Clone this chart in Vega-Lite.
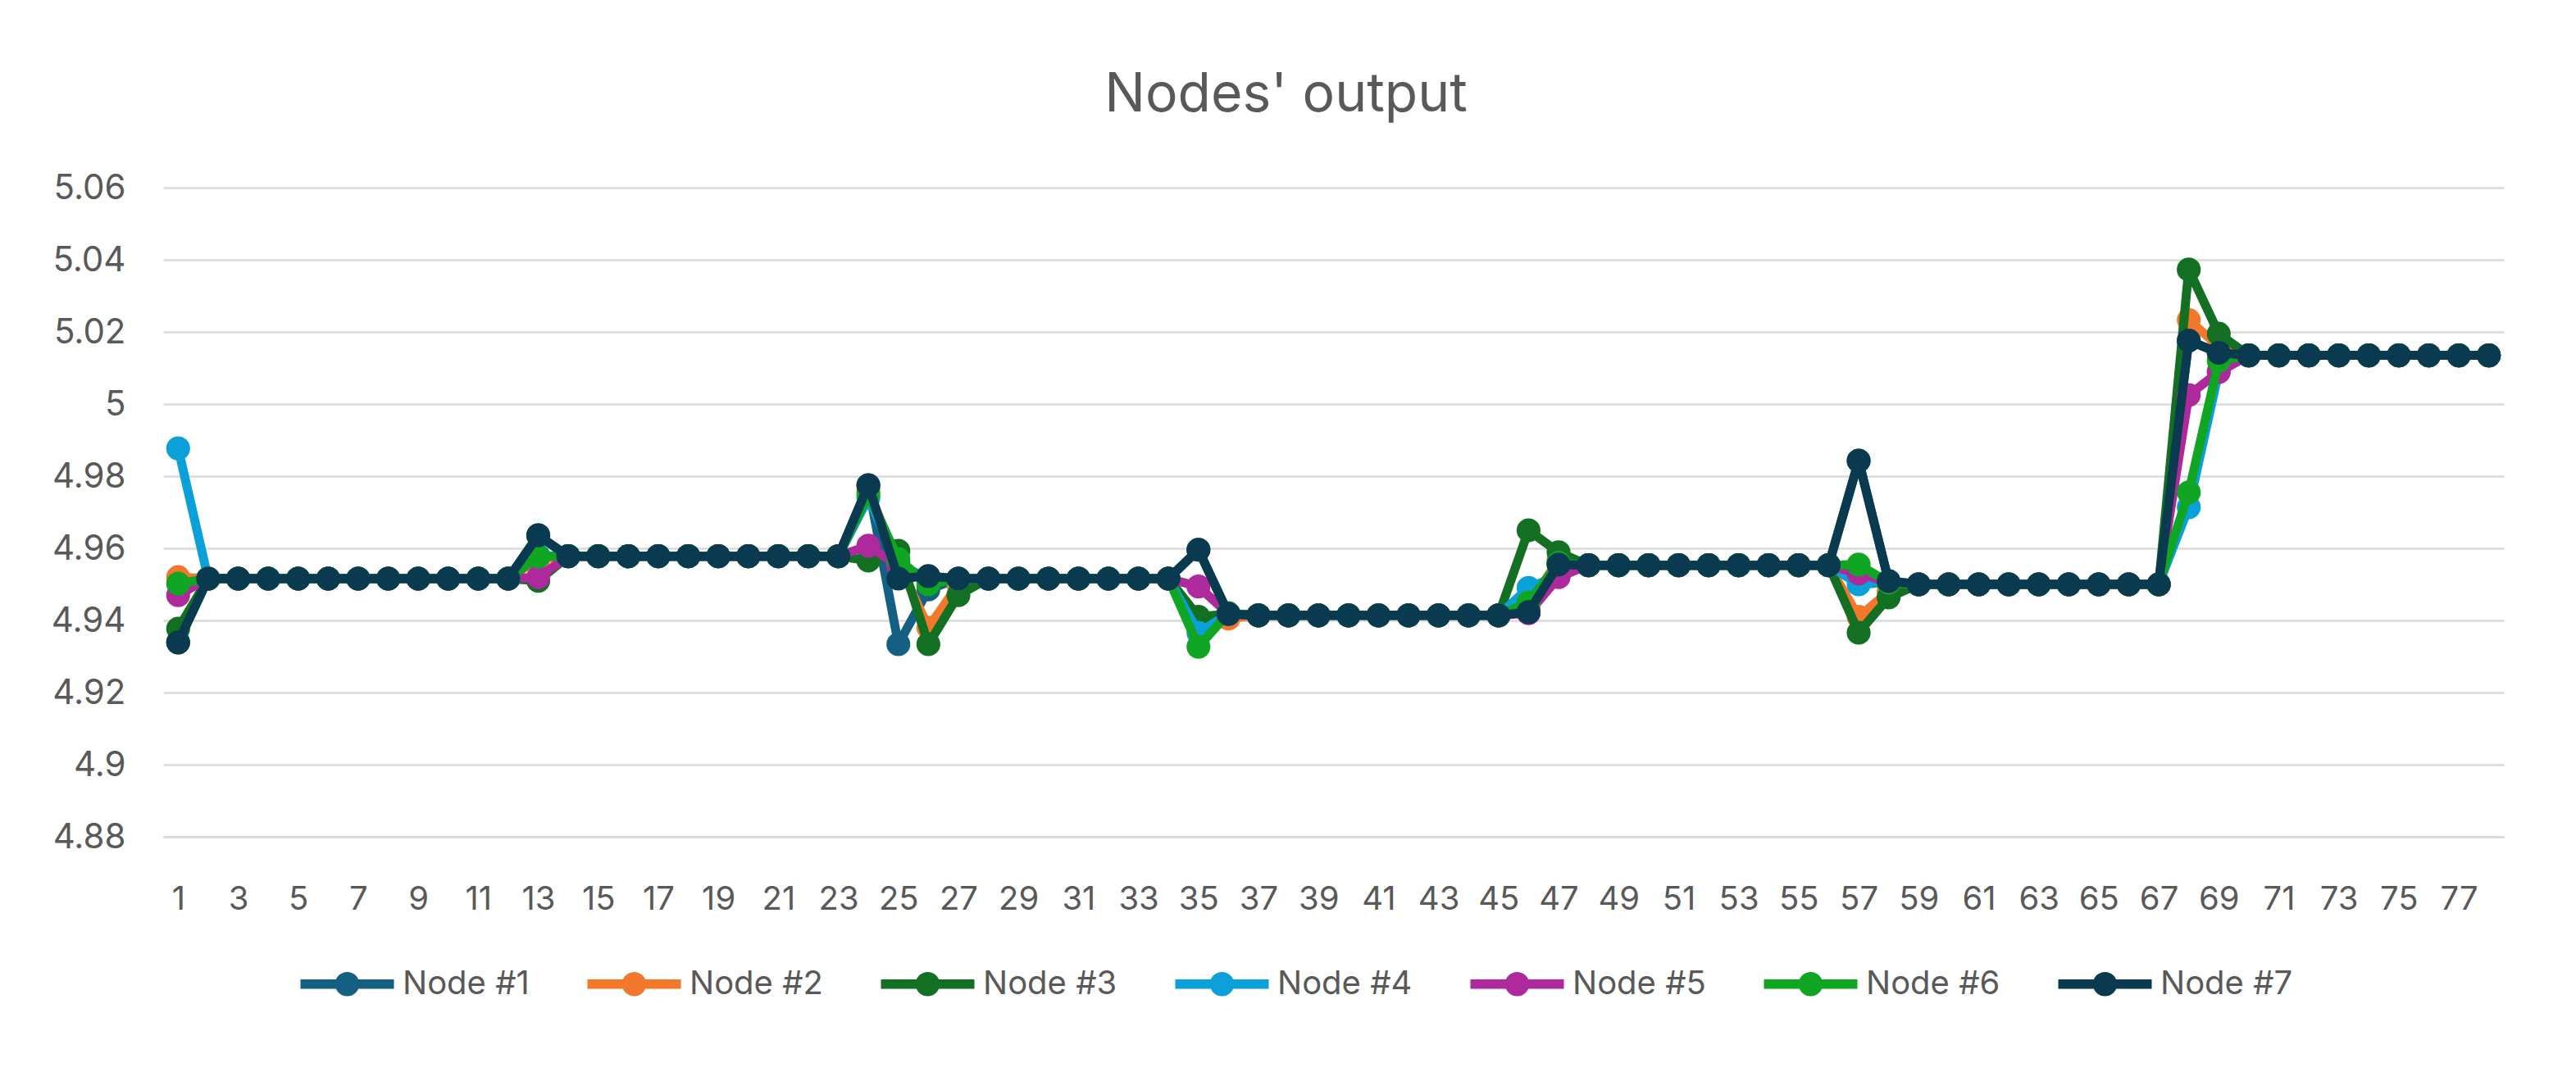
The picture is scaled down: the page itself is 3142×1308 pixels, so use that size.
{
  "$schema": "https://vega.github.io/schema/vega-lite/v6.json",
  "width": 2855,
  "height": 792,
  "autosize": {"type": "none"},
  "padding": {"left": 199, "top": 229, "right": 88, "bottom": 287},
  "background": "white",
  "config": {"view": {"stroke": null}, "font": "Inter"},
  "title": {"text": "Nodes' output", "fontSize": 66, "fontWeight": "normal", "color": "#595959", "anchor": "middle", "offset": 58, "dx": -58},
  "datasets": {
    "n1": [{"x":1,"v":4.9339},{"x":2,"v":4.9516},{"x":3,"v":4.9516},{"x":4,"v":4.9516},{"x":5,"v":4.9516},{"x":6,"v":4.9516},{"x":7,"v":4.9516},{"x":8,"v":4.9516},{"x":9,"v":4.9516},{"x":10,"v":4.9516},{"x":11,"v":4.9516},{"x":12,"v":4.9516},{"x":13,"v":4.9636},{"x":14,"v":4.9578},{"x":15,"v":4.9578},{"x":16,"v":4.9578},{"x":17,"v":4.9578},{"x":18,"v":4.9578},{"x":19,"v":4.9578},{"x":20,"v":4.9578},{"x":21,"v":4.9578},{"x":22,"v":4.9578},{"x":23,"v":4.9578},{"x":24,"v":4.9775},{"x":25,"v":4.9334},{"x":26,"v":4.9486},{"x":27,"v":4.9516},{"x":28,"v":4.9516},{"x":29,"v":4.9516},{"x":30,"v":4.9516},{"x":31,"v":4.9516},{"x":32,"v":4.9516},{"x":33,"v":4.9516},{"x":34,"v":4.9516},{"x":35,"v":4.9596},{"x":36,"v":4.9418},{"x":37,"v":4.9414},{"x":38,"v":4.9414},{"x":39,"v":4.9414},{"x":40,"v":4.9414},{"x":41,"v":4.9414},{"x":42,"v":4.9414},{"x":43,"v":4.9414},{"x":44,"v":4.9414},{"x":45,"v":4.9414},{"x":46,"v":4.9423},{"x":47,"v":4.9555},{"x":48,"v":4.9553},{"x":49,"v":4.9553},{"x":50,"v":4.9553},{"x":51,"v":4.9553},{"x":52,"v":4.9553},{"x":53,"v":4.9553},{"x":54,"v":4.9553},{"x":55,"v":4.9553},{"x":56,"v":4.9553},{"x":57,"v":4.9843},{"x":58,"v":4.9509},{"x":59,"v":4.95},{"x":60,"v":4.95},{"x":61,"v":4.95},{"x":62,"v":4.95},{"x":63,"v":4.95},{"x":64,"v":4.95},{"x":65,"v":4.95},{"x":66,"v":4.95},{"x":67,"v":4.95},{"x":68,"v":5.0176},{"x":69,"v":5.0142},{"x":70,"v":5.0135},{"x":71,"v":5.0135},{"x":72,"v":5.0135},{"x":73,"v":5.0135},{"x":74,"v":5.0135},{"x":75,"v":5.0135},{"x":76,"v":5.0135},{"x":77,"v":5.0135},{"x":78,"v":5.0135}],
    "n2": [{"x":1,"v":4.952},{"x":2,"v":4.9516},{"x":3,"v":4.9516},{"x":4,"v":4.9516},{"x":5,"v":4.9516},{"x":6,"v":4.9516},{"x":7,"v":4.9516},{"x":8,"v":4.9516},{"x":9,"v":4.9516},{"x":10,"v":4.9516},{"x":11,"v":4.9516},{"x":12,"v":4.9516},{"x":13,"v":4.957},{"x":14,"v":4.9578},{"x":15,"v":4.9578},{"x":16,"v":4.9578},{"x":17,"v":4.9578},{"x":18,"v":4.9578},{"x":19,"v":4.9578},{"x":20,"v":4.9578},{"x":21,"v":4.9578},{"x":22,"v":4.9578},{"x":23,"v":4.9578},{"x":24,"v":4.976},{"x":25,"v":4.956},{"x":26,"v":4.938},{"x":27,"v":4.95},{"x":28,"v":4.9516},{"x":29,"v":4.9516},{"x":30,"v":4.9516},{"x":31,"v":4.9516},{"x":32,"v":4.9516},{"x":33,"v":4.9516},{"x":34,"v":4.9516},{"x":35,"v":4.94},{"x":36,"v":4.9405},{"x":37,"v":4.9414},{"x":38,"v":4.9414},{"x":39,"v":4.9414},{"x":40,"v":4.9414},{"x":41,"v":4.9414},{"x":42,"v":4.9414},{"x":43,"v":4.9414},{"x":44,"v":4.9414},{"x":45,"v":4.9414},{"x":46,"v":4.944},{"x":47,"v":4.957},{"x":48,"v":4.9553},{"x":49,"v":4.9553},{"x":50,"v":4.9553},{"x":51,"v":4.9553},{"x":52,"v":4.9553},{"x":53,"v":4.9553},{"x":54,"v":4.9553},{"x":55,"v":4.9553},{"x":56,"v":4.9553},{"x":57,"v":4.941},{"x":58,"v":4.948},{"x":59,"v":4.95},{"x":60,"v":4.95},{"x":61,"v":4.95},{"x":62,"v":4.95},{"x":63,"v":4.95},{"x":64,"v":4.95},{"x":65,"v":4.95},{"x":66,"v":4.95},{"x":67,"v":4.95},{"x":68,"v":5.0233},{"x":69,"v":5.016},{"x":70,"v":5.0135},{"x":71,"v":5.0135},{"x":72,"v":5.0135},{"x":73,"v":5.0135},{"x":74,"v":5.0135},{"x":75,"v":5.0135},{"x":76,"v":5.0135},{"x":77,"v":5.0135},{"x":78,"v":5.0135}],
    "n3": [{"x":1,"v":4.9377},{"x":2,"v":4.9516},{"x":3,"v":4.9516},{"x":4,"v":4.9516},{"x":5,"v":4.9516},{"x":6,"v":4.9516},{"x":7,"v":4.9516},{"x":8,"v":4.9516},{"x":9,"v":4.9516},{"x":10,"v":4.9516},{"x":11,"v":4.9516},{"x":12,"v":4.9516},{"x":13,"v":4.951},{"x":14,"v":4.9578},{"x":15,"v":4.9578},{"x":16,"v":4.9578},{"x":17,"v":4.9578},{"x":18,"v":4.9578},{"x":19,"v":4.9578},{"x":20,"v":4.9578},{"x":21,"v":4.9578},{"x":22,"v":4.9578},{"x":23,"v":4.9578},{"x":24,"v":4.9566},{"x":25,"v":4.9593},{"x":26,"v":4.9334},{"x":27,"v":4.947},{"x":28,"v":4.9516},{"x":29,"v":4.9516},{"x":30,"v":4.9516},{"x":31,"v":4.9516},{"x":32,"v":4.9516},{"x":33,"v":4.9516},{"x":34,"v":4.9516},{"x":35,"v":4.941},{"x":36,"v":4.9418},{"x":37,"v":4.9414},{"x":38,"v":4.9414},{"x":39,"v":4.9414},{"x":40,"v":4.9414},{"x":41,"v":4.9414},{"x":42,"v":4.9414},{"x":43,"v":4.9414},{"x":44,"v":4.9414},{"x":45,"v":4.9414},{"x":46,"v":4.965},{"x":47,"v":4.9589},{"x":48,"v":4.9553},{"x":49,"v":4.9553},{"x":50,"v":4.9553},{"x":51,"v":4.9553},{"x":52,"v":4.9553},{"x":53,"v":4.9553},{"x":54,"v":4.9553},{"x":55,"v":4.9553},{"x":56,"v":4.9553},{"x":57,"v":4.9366},{"x":58,"v":4.9464},{"x":59,"v":4.95},{"x":60,"v":4.95},{"x":61,"v":4.95},{"x":62,"v":4.95},{"x":63,"v":4.95},{"x":64,"v":4.95},{"x":65,"v":4.95},{"x":66,"v":4.95},{"x":67,"v":4.95},{"x":68,"v":5.0373},{"x":69,"v":5.0195},{"x":70,"v":5.0135},{"x":71,"v":5.0135},{"x":72,"v":5.0135},{"x":73,"v":5.0135},{"x":74,"v":5.0135},{"x":75,"v":5.0135},{"x":76,"v":5.0135},{"x":77,"v":5.0135},{"x":78,"v":5.0135}],
    "n4": [{"x":1,"v":4.9877},{"x":2,"v":4.9516},{"x":3,"v":4.9516},{"x":4,"v":4.9516},{"x":5,"v":4.9516},{"x":6,"v":4.9516},{"x":7,"v":4.9516},{"x":8,"v":4.9516},{"x":9,"v":4.9516},{"x":10,"v":4.9516},{"x":11,"v":4.9516},{"x":12,"v":4.9516},{"x":13,"v":4.958},{"x":14,"v":4.9578},{"x":15,"v":4.9578},{"x":16,"v":4.9578},{"x":17,"v":4.9578},{"x":18,"v":4.9578},{"x":19,"v":4.9578},{"x":20,"v":4.9578},{"x":21,"v":4.9578},{"x":22,"v":4.9578},{"x":23,"v":4.9578},{"x":24,"v":4.974},{"x":25,"v":4.9555},{"x":26,"v":4.9516},{"x":27,"v":4.9516},{"x":28,"v":4.9516},{"x":29,"v":4.9516},{"x":30,"v":4.9516},{"x":31,"v":4.9516},{"x":32,"v":4.9516},{"x":33,"v":4.9516},{"x":34,"v":4.9516},{"x":35,"v":4.9366},{"x":36,"v":4.9418},{"x":37,"v":4.9414},{"x":38,"v":4.9414},{"x":39,"v":4.9414},{"x":40,"v":4.9414},{"x":41,"v":4.9414},{"x":42,"v":4.9414},{"x":43,"v":4.9414},{"x":44,"v":4.9414},{"x":45,"v":4.9414},{"x":46,"v":4.949},{"x":47,"v":4.9525},{"x":48,"v":4.9553},{"x":49,"v":4.9553},{"x":50,"v":4.9553},{"x":51,"v":4.9553},{"x":52,"v":4.9553},{"x":53,"v":4.9553},{"x":54,"v":4.9553},{"x":55,"v":4.9553},{"x":56,"v":4.9553},{"x":57,"v":4.95},{"x":58,"v":4.9505},{"x":59,"v":4.95},{"x":60,"v":4.95},{"x":61,"v":4.95},{"x":62,"v":4.95},{"x":63,"v":4.95},{"x":64,"v":4.95},{"x":65,"v":4.95},{"x":66,"v":4.95},{"x":67,"v":4.95},{"x":68,"v":4.9714},{"x":69,"v":5.009},{"x":70,"v":5.0135},{"x":71,"v":5.0135},{"x":72,"v":5.0135},{"x":73,"v":5.0135},{"x":74,"v":5.0135},{"x":75,"v":5.0135},{"x":76,"v":5.0135},{"x":77,"v":5.0135},{"x":78,"v":5.0135}],
    "n5": [{"x":1,"v":4.947},{"x":2,"v":4.9516},{"x":3,"v":4.9516},{"x":4,"v":4.9516},{"x":5,"v":4.9516},{"x":6,"v":4.9516},{"x":7,"v":4.9516},{"x":8,"v":4.9516},{"x":9,"v":4.9516},{"x":10,"v":4.9516},{"x":11,"v":4.9516},{"x":12,"v":4.9516},{"x":13,"v":4.952},{"x":14,"v":4.9578},{"x":15,"v":4.9578},{"x":16,"v":4.9578},{"x":17,"v":4.9578},{"x":18,"v":4.9578},{"x":19,"v":4.9578},{"x":20,"v":4.9578},{"x":21,"v":4.9578},{"x":22,"v":4.9578},{"x":23,"v":4.9578},{"x":24,"v":4.9607},{"x":25,"v":4.955},{"x":26,"v":4.9516},{"x":27,"v":4.9516},{"x":28,"v":4.9516},{"x":29,"v":4.9516},{"x":30,"v":4.9516},{"x":31,"v":4.9516},{"x":32,"v":4.9516},{"x":33,"v":4.9516},{"x":34,"v":4.9516},{"x":35,"v":4.9494},{"x":36,"v":4.9418},{"x":37,"v":4.9414},{"x":38,"v":4.9414},{"x":39,"v":4.9414},{"x":40,"v":4.9414},{"x":41,"v":4.9414},{"x":42,"v":4.9414},{"x":43,"v":4.9414},{"x":44,"v":4.9414},{"x":45,"v":4.9414},{"x":46,"v":4.942},{"x":47,"v":4.952},{"x":48,"v":4.9553},{"x":49,"v":4.9553},{"x":50,"v":4.9553},{"x":51,"v":4.9553},{"x":52,"v":4.9553},{"x":53,"v":4.9553},{"x":54,"v":4.9553},{"x":55,"v":4.9553},{"x":56,"v":4.9553},{"x":57,"v":4.953},{"x":58,"v":4.9505},{"x":59,"v":4.95},{"x":60,"v":4.95},{"x":61,"v":4.95},{"x":62,"v":4.95},{"x":63,"v":4.95},{"x":64,"v":4.95},{"x":65,"v":4.95},{"x":66,"v":4.95},{"x":67,"v":4.95},{"x":68,"v":5.0025},{"x":69,"v":5.0089},{"x":70,"v":5.0135},{"x":71,"v":5.0135},{"x":72,"v":5.0135},{"x":73,"v":5.0135},{"x":74,"v":5.0135},{"x":75,"v":5.0135},{"x":76,"v":5.0135},{"x":77,"v":5.0135},{"x":78,"v":5.0135}],
    "n6": [{"x":1,"v":4.9502},{"x":2,"v":4.9516},{"x":3,"v":4.9516},{"x":4,"v":4.9516},{"x":5,"v":4.9516},{"x":6,"v":4.9516},{"x":7,"v":4.9516},{"x":8,"v":4.9516},{"x":9,"v":4.9516},{"x":10,"v":4.9516},{"x":11,"v":4.9516},{"x":12,"v":4.9516},{"x":13,"v":4.9577},{"x":14,"v":4.9578},{"x":15,"v":4.9578},{"x":16,"v":4.9578},{"x":17,"v":4.9578},{"x":18,"v":4.9578},{"x":19,"v":4.9578},{"x":20,"v":4.9578},{"x":21,"v":4.9578},{"x":22,"v":4.9578},{"x":23,"v":4.9578},{"x":24,"v":4.975},{"x":25,"v":4.957},{"x":26,"v":4.95},{"x":27,"v":4.9516},{"x":28,"v":4.9516},{"x":29,"v":4.9516},{"x":30,"v":4.9516},{"x":31,"v":4.9516},{"x":32,"v":4.9516},{"x":33,"v":4.9516},{"x":34,"v":4.9516},{"x":35,"v":4.9327},{"x":36,"v":4.942},{"x":37,"v":4.9414},{"x":38,"v":4.9414},{"x":39,"v":4.9414},{"x":40,"v":4.9414},{"x":41,"v":4.9414},{"x":42,"v":4.9414},{"x":43,"v":4.9414},{"x":44,"v":4.9414},{"x":45,"v":4.9414},{"x":46,"v":4.945},{"x":47,"v":4.956},{"x":48,"v":4.9553},{"x":49,"v":4.9553},{"x":50,"v":4.9553},{"x":51,"v":4.9553},{"x":52,"v":4.9553},{"x":53,"v":4.9553},{"x":54,"v":4.9553},{"x":55,"v":4.9553},{"x":56,"v":4.9553},{"x":57,"v":4.9555},{"x":58,"v":4.9505},{"x":59,"v":4.95},{"x":60,"v":4.95},{"x":61,"v":4.95},{"x":62,"v":4.95},{"x":63,"v":4.95},{"x":64,"v":4.95},{"x":65,"v":4.95},{"x":66,"v":4.95},{"x":67,"v":4.95},{"x":68,"v":4.9755},{"x":69,"v":5.012},{"x":70,"v":5.0135},{"x":71,"v":5.0135},{"x":72,"v":5.0135},{"x":73,"v":5.0135},{"x":74,"v":5.0135},{"x":75,"v":5.0135},{"x":76,"v":5.0135},{"x":77,"v":5.0135},{"x":78,"v":5.0135}],
    "n7": [{"x":1,"v":4.9339},{"x":2,"v":4.9516},{"x":3,"v":4.9516},{"x":4,"v":4.9516},{"x":5,"v":4.9516},{"x":6,"v":4.9516},{"x":7,"v":4.9516},{"x":8,"v":4.9516},{"x":9,"v":4.9516},{"x":10,"v":4.9516},{"x":11,"v":4.9516},{"x":12,"v":4.9516},{"x":13,"v":4.9636},{"x":14,"v":4.9578},{"x":15,"v":4.9578},{"x":16,"v":4.9578},{"x":17,"v":4.9578},{"x":18,"v":4.9578},{"x":19,"v":4.9578},{"x":20,"v":4.9578},{"x":21,"v":4.9578},{"x":22,"v":4.9578},{"x":23,"v":4.9578},{"x":24,"v":4.9775},{"x":25,"v":4.9516},{"x":26,"v":4.9523},{"x":27,"v":4.9516},{"x":28,"v":4.9516},{"x":29,"v":4.9516},{"x":30,"v":4.9516},{"x":31,"v":4.9516},{"x":32,"v":4.9516},{"x":33,"v":4.9516},{"x":34,"v":4.9516},{"x":35,"v":4.9596},{"x":36,"v":4.9418},{"x":37,"v":4.9414},{"x":38,"v":4.9414},{"x":39,"v":4.9414},{"x":40,"v":4.9414},{"x":41,"v":4.9414},{"x":42,"v":4.9414},{"x":43,"v":4.9414},{"x":44,"v":4.9414},{"x":45,"v":4.9414},{"x":46,"v":4.9423},{"x":47,"v":4.9555},{"x":48,"v":4.9553},{"x":49,"v":4.9553},{"x":50,"v":4.9553},{"x":51,"v":4.9553},{"x":52,"v":4.9553},{"x":53,"v":4.9553},{"x":54,"v":4.9553},{"x":55,"v":4.9553},{"x":56,"v":4.9553},{"x":57,"v":4.9843},{"x":58,"v":4.9509},{"x":59,"v":4.95},{"x":60,"v":4.95},{"x":61,"v":4.95},{"x":62,"v":4.95},{"x":63,"v":4.95},{"x":64,"v":4.95},{"x":65,"v":4.95},{"x":66,"v":4.95},{"x":67,"v":4.95},{"x":68,"v":5.0176},{"x":69,"v":5.0142},{"x":70,"v":5.0135},{"x":71,"v":5.0135},{"x":72,"v":5.0135},{"x":73,"v":5.0135},{"x":74,"v":5.0135},{"x":75,"v":5.0135},{"x":76,"v":5.0135},{"x":77,"v":5.0135},{"x":78,"v":5.0135}]
  },
  "encoding": {
    "x": {"field": "x", "type": "ordinal", "scale": {"type": "point", "padding": 0.5},
      "axis": {"title": null, "labelAngle": 0, "labelExpr": "datum.value % 2 == 1 ? datum.label : ''", "ticks": false, "tickSize": 0, "grid": false, "domain": true, "domainColor": "#D9D9D9", "domainWidth": 2.5, "labelFontSize": 40, "labelColor": "#595959", "labelPadding": 56}},
    "y": {"field": "v", "type": "quantitative", "scale": {"domain": [4.88, 5.06], "zero": false, "nice": false},
      "axis": {"title": null, "values": [4.88, 4.9, 4.92, 4.94, 4.96, 4.98, 5, 5.02, 5.04, 5.06], "format": ".2~f", "domain": false, "ticks": false, "tickSize": 0, "grid": true, "gridColor": "#D9D9D9", "gridWidth": 2.5, "labelFontSize": 42, "labelColor": "#595959", "labelPadding": 46}}
  },
  "layer": [
    {"data": {"name": "n1"}, "mark": {"type": "line", "strokeWidth": 11, "strokeJoin": "round", "point": {"filled": true, "size": 850, "opacity": 1}},
      "encoding": {"color": {"datum": "Node #1", "type": "nominal",
        "scale": {"domain": ["Node #1", "Node #2", "Node #3", "Node #4", "Node #5", "Node #6", "Node #7"], "range": ["#156082", "#F4782B", "#136F22", "#0BA0D8", "#AE2A9C", "#11A524", "#0A3A50"]},
        "legend": {"title": null, "orient": "none", "direction": "horizontal", "columns": 7, "legendX": 167, "legendY": 914, "padding": 0,
          "symbolType": "M -1 -0.1 L -0.22 -0.1 L -0.22 0.1 L -1 0.1 Z M 0.22 -0.1 L 1 -0.1 L 1 0.1 L 0.22 0.1 Z M 0.26 0 A 0.26 0.26 0 1 1 -0.26 0 A 0.26 0.26 0 1 1 0.26 0 Z",
          "symbolSize": 13000, "symbolStrokeWidth": 0, "labelFontSize": 40, "labelColor": "#595959", "labelOffset": 10, "labelLimit": 0, "columnPadding": 70,
          "encode": {"symbols": {"update": {"fill": {"scale": "color", "field": "value"}, "fillOpacity": {"value": 1}, "opacity": {"value": 1}, "strokeWidth": {"value": 0}}}}}}}},
    {"data": {"name": "n2"}, "mark": {"type": "line", "strokeWidth": 11, "strokeJoin": "round", "point": {"filled": true, "size": 850, "opacity": 1}}, "encoding": {"color": {"datum": "Node #2", "type": "nominal"}}},
    {"data": {"name": "n3"}, "mark": {"type": "line", "strokeWidth": 11, "strokeJoin": "round", "point": {"filled": true, "size": 850, "opacity": 1}}, "encoding": {"color": {"datum": "Node #3", "type": "nominal"}}},
    {"data": {"name": "n4"}, "mark": {"type": "line", "strokeWidth": 11, "strokeJoin": "round", "point": {"filled": true, "size": 850, "opacity": 1}}, "encoding": {"color": {"datum": "Node #4", "type": "nominal"}}},
    {"data": {"name": "n5"}, "mark": {"type": "line", "strokeWidth": 11, "strokeJoin": "round", "point": {"filled": true, "size": 850, "opacity": 1}}, "encoding": {"color": {"datum": "Node #5", "type": "nominal"}}},
    {"data": {"name": "n6"}, "mark": {"type": "line", "strokeWidth": 11, "strokeJoin": "round", "point": {"filled": true, "size": 850, "opacity": 1}}, "encoding": {"color": {"datum": "Node #6", "type": "nominal"}}},
    {"data": {"name": "n7"}, "mark": {"type": "line", "strokeWidth": 11, "strokeJoin": "round", "point": {"filled": true, "size": 850, "opacity": 1}}, "encoding": {"color": {"datum": "Node #7", "type": "nominal"}}}
  ]
}
